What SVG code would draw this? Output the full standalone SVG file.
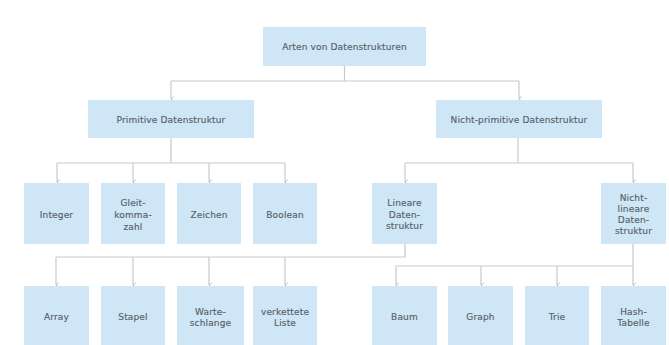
<svg xmlns="http://www.w3.org/2000/svg" width="669" height="345" viewBox="0 0 669 345">
<style>
.box{fill:#cfe6f6}
.t{font-family:"DejaVu Sans","Liberation Sans",sans-serif;font-size:9px;letter-spacing:0.15px;fill:#56616b;stroke:#56616b;stroke-width:0.15;text-anchor:middle;dominant-baseline:central}
.c{fill:none;stroke:#c9c9c9;stroke-width:1.2}
</style>
<defs>
<marker id="ah" viewBox="0 0 10 10" refX="5" refY="9" markerWidth="6" markerHeight="6" orient="auto-start-reverse" markerUnits="userSpaceOnUse">
<path d="M1,4 L5,9 L9,4" fill="none" stroke="#b5b5b5" stroke-width="1.4"/>
</marker>
</defs>
<rect width="669" height="345" fill="#ffffff"/>
<g id="connectors">
<path class="c" d="M344.5,66 V81 M171,81 H519"/>
<path class="c" d="M171,81 V99" marker-end="url(#ah)"/>
<path class="c" d="M519,81 V99" marker-end="url(#ah)"/>
<path class="c" d="M171,138 V163 M57,163 H285"/>
<path class="c" d="M57,163 V182" marker-end="url(#ah)"/>
<path class="c" d="M133,163 V182" marker-end="url(#ah)"/>
<path class="c" d="M209,163 V182" marker-end="url(#ah)"/>
<path class="c" d="M285,163 V182" marker-end="url(#ah)"/>
<path class="c" d="M518,138 V163 M405,163 H633"/>
<path class="c" d="M405,163 V182" marker-end="url(#ah)"/>
<path class="c" d="M633,163 V182" marker-end="url(#ah)"/>
<path class="c" d="M405,244 V257 H56"/>
<path class="c" d="M56,257 V285" marker-end="url(#ah)"/>
<path class="c" d="M133,257 V285" marker-end="url(#ah)"/>
<path class="c" d="M209,257 V285" marker-end="url(#ah)"/>
<path class="c" d="M285,257 V285" marker-end="url(#ah)"/>
<path class="c" d="M633,244 V266 M396,266 H633"/>
<path class="c" d="M396,266 V285" marker-end="url(#ah)"/>
<path class="c" d="M481,266 V285" marker-end="url(#ah)"/>
<path class="c" d="M557,266 V285" marker-end="url(#ah)"/>
<path class="c" d="M633,266 V285" marker-end="url(#ah)"/>
</g>
<g id="root"><rect class="box" x="263" y="27" width="163" height="39"/><text class="t" x="344.5" y="46.5">Arten von Datenstrukturen</text></g>
<g id="primitive"><rect class="box" x="88" y="100" width="166" height="38"/><text class="t" x="171" y="120">Primitive Datenstruktur</text></g>
<g id="nichtprimitive"><rect class="box" x="436" y="100" width="166" height="38"/><text class="t" x="519" y="120">Nicht-primitive Datenstruktur</text></g>
<g id="integer"><rect class="box" x="24" y="183" width="65" height="61"/><text class="t" x="56.5" y="215">Integer</text></g>
<g id="gleitkommazahl"><rect class="box" x="101" y="183" width="64" height="61"/><text class="t" x="133" y="203">Gleit-</text><text class="t" x="133" y="215">komma-</text><text class="t" x="133" y="227">zahl</text></g>
<g id="zeichen"><rect class="box" x="177" y="183" width="64" height="61"/><text class="t" x="209" y="215">Zeichen</text></g>
<g id="boolean"><rect class="box" x="253" y="183" width="64" height="61"/><text class="t" x="285" y="215">Boolean</text></g>
<g id="linear"><rect class="box" x="372" y="183" width="65" height="61"/><text class="t" x="404.5" y="203">Lineare</text><text class="t" x="404.5" y="214.5">Daten-</text><text class="t" x="404.5" y="226">struktur</text></g>
<g id="nichtlinear"><rect class="box" x="601" y="183" width="65" height="61"/><text class="t" x="633.5" y="198">Nicht-</text><text class="t" x="633.5" y="209">lineare</text><text class="t" x="633.5" y="220">Daten-</text><text class="t" x="633.5" y="231">struktur</text></g>
<g id="array"><rect class="box" x="24" y="286" width="65" height="62"/><text class="t" x="56.5" y="317">Array</text></g>
<g id="stapel"><rect class="box" x="101" y="286" width="64" height="62"/><text class="t" x="133" y="317">Stapel</text></g>
<g id="warteschlange"><rect class="box" x="177" y="286" width="67" height="62"/><text class="t" x="210.5" y="312">Warte-</text><text class="t" x="210.5" y="323">schlange</text></g>
<g id="verkettete"><rect class="box" x="253" y="286" width="64" height="62"/><text class="t" x="285" y="312">verkettete</text><text class="t" x="285" y="323">Liste</text></g>
<g id="baum"><rect class="box" x="372" y="286" width="65" height="62"/><text class="t" x="404.5" y="317">Baum</text></g>
<g id="graph"><rect class="box" x="448" y="286" width="65" height="62"/><text class="t" x="480.5" y="317">Graph</text></g>
<g id="trie"><rect class="box" x="525" y="286" width="64" height="62"/><text class="t" x="557" y="317">Trie</text></g>
<g id="hash"><rect class="box" x="601" y="286" width="65" height="62"/><text class="t" x="633.5" y="312">Hash-</text><text class="t" x="633.5" y="323">Tabelle</text></g>
</svg>
